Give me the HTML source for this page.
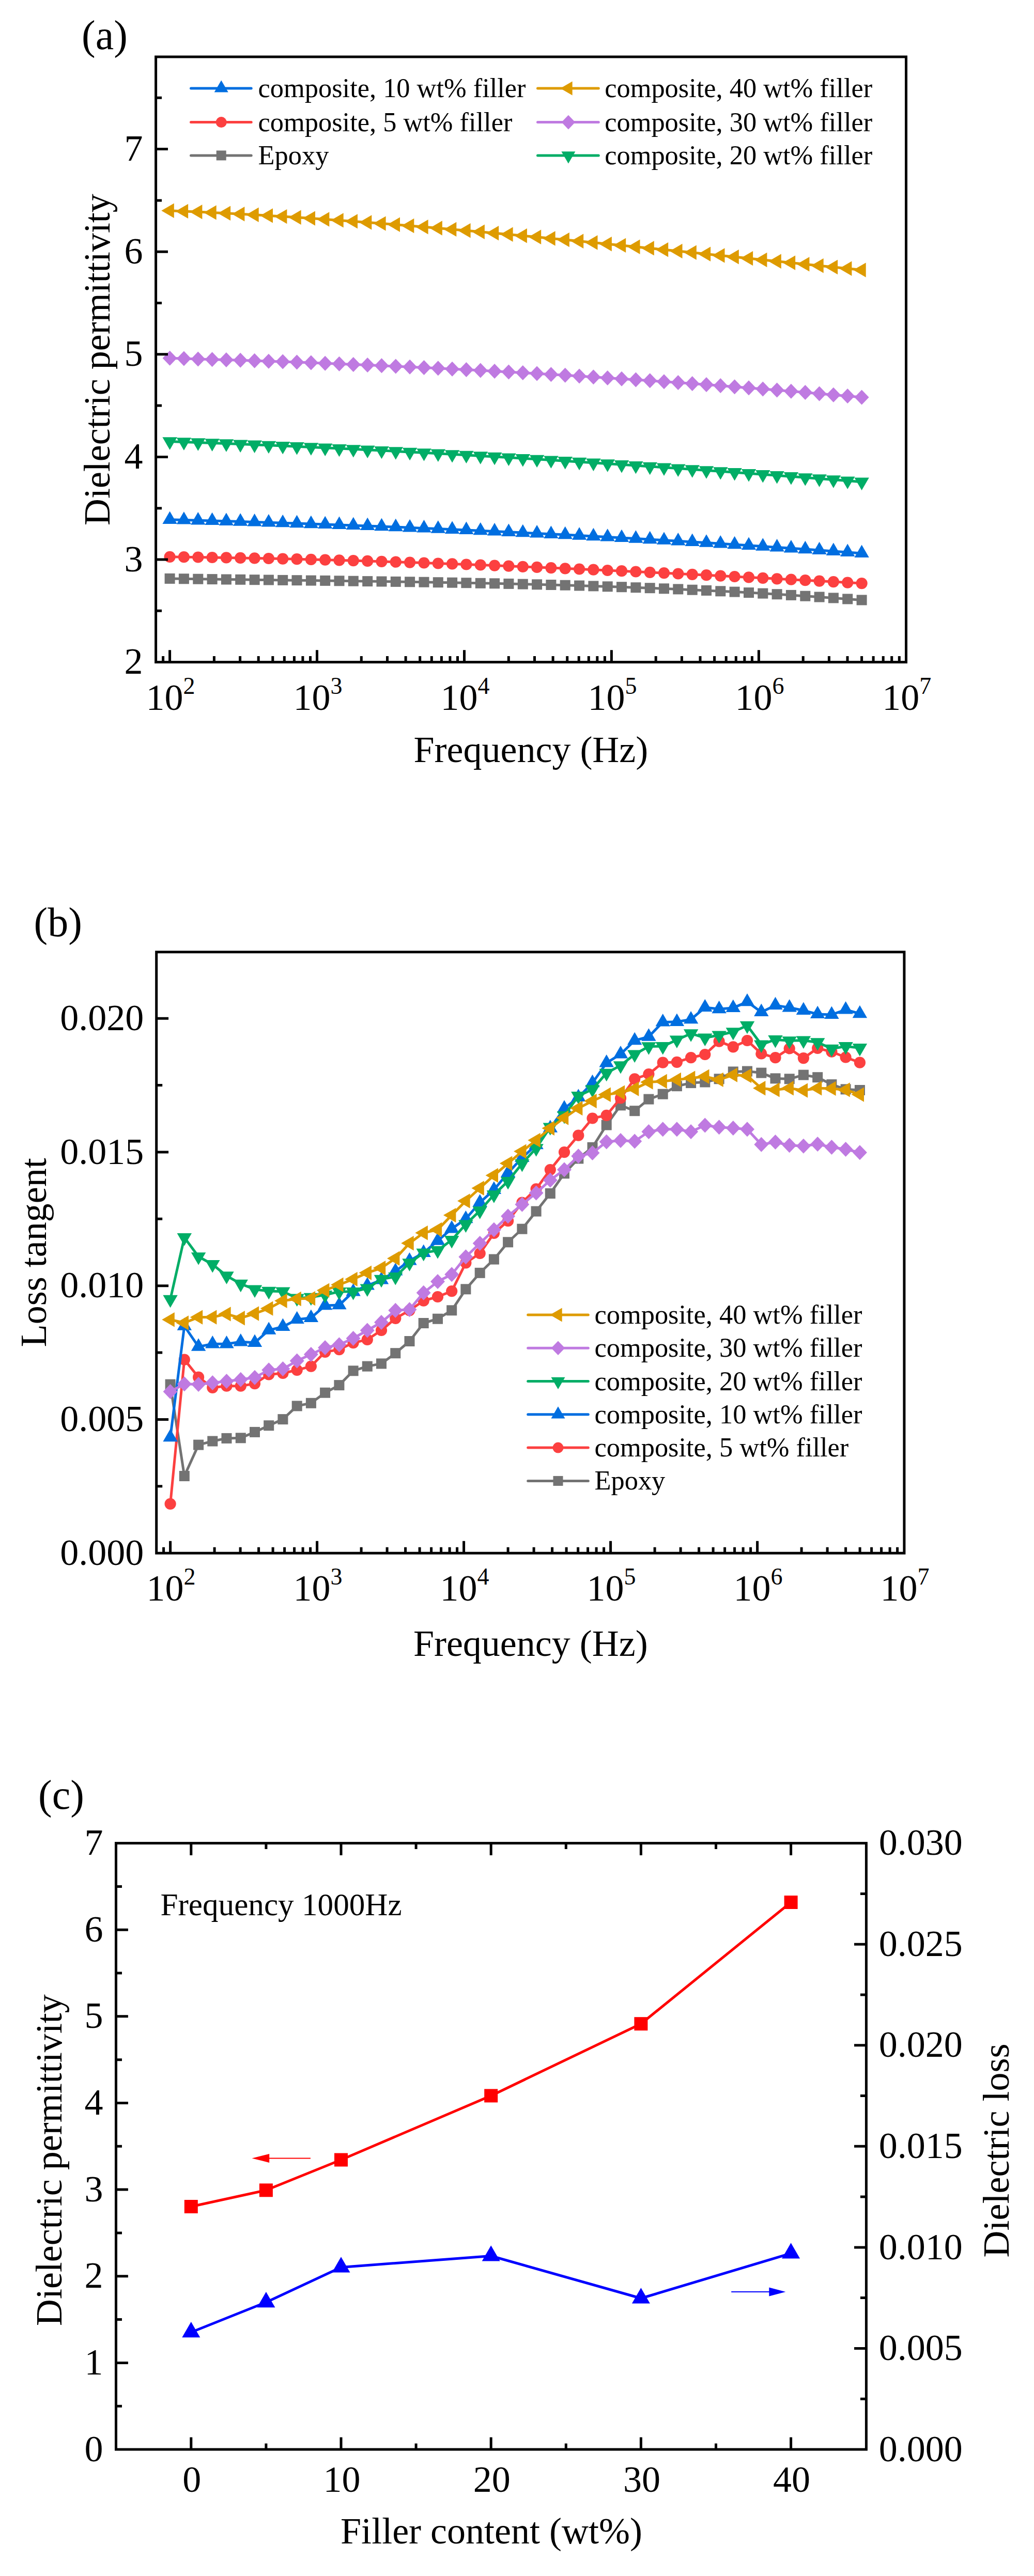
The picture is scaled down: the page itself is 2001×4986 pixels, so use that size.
<!DOCTYPE html>
<html><head><meta charset="utf-8"><title>Dielectric properties</title>
<style>html,body{margin:0;padding:0;background:#fff}svg{display:block}text{font-family:"Liberation Serif", "Times New Roman", serif;fill:#000}</style>
</head><body>
<svg width="2001" height="4986" viewBox="0 0 2001 4986">
<rect width="2001" height="4986" fill="#fff"/>
<polyline points="328.6,1119.9 355.9,1120.3 383.3,1120.7 410.6,1121.1 437.9,1121.5 465.2,1121.8 492.6,1122.2 519.9,1122.5 547.2,1122.9 574.5,1123.2 601.9,1123.6 629.2,1123.9 656.5,1124.3 683.8,1124.7 711.2,1125.1 738.5,1125.5 765.8,1125.9 793.1,1126.3 820.5,1126.7 847.8,1127.2 875.1,1127.7 902.4,1128.2 929.8,1128.8 957.1,1129.3 984.4,1129.9 1011.8,1130.6 1039.1,1131.3 1066.4,1132 1093.7,1132.7 1121.1,1133.5 1148.4,1134.4 1175.7,1135.3 1203,1136.2 1230.4,1137.2 1257.7,1138.2 1285,1139.3 1312.3,1140.4 1339.7,1141.7 1367,1142.9 1394.3,1144.3 1421.6,1145.6 1449,1147.1 1476.3,1148.6 1503.6,1150.2 1530.9,1151.9 1558.3,1153.7 1585.6,1155.5 1612.9,1157.4 1640.2,1159.4 1667.6,1161.4" fill="none" stroke="#737373" stroke-width="5" stroke-linejoin="round" stroke-linecap="round"/>
<rect x="318.6" y="1109.9" width="20" height="20" fill="#737373"/><rect x="345.9" y="1110.3" width="20" height="20" fill="#737373"/><rect x="373.3" y="1110.7" width="20" height="20" fill="#737373"/><rect x="400.6" y="1111.1" width="20" height="20" fill="#737373"/><rect x="427.9" y="1111.5" width="20" height="20" fill="#737373"/><rect x="455.2" y="1111.8" width="20" height="20" fill="#737373"/><rect x="482.6" y="1112.2" width="20" height="20" fill="#737373"/><rect x="509.9" y="1112.5" width="20" height="20" fill="#737373"/><rect x="537.2" y="1112.9" width="20" height="20" fill="#737373"/><rect x="564.5" y="1113.2" width="20" height="20" fill="#737373"/><rect x="591.9" y="1113.6" width="20" height="20" fill="#737373"/><rect x="619.2" y="1113.9" width="20" height="20" fill="#737373"/><rect x="646.5" y="1114.3" width="20" height="20" fill="#737373"/><rect x="673.8" y="1114.7" width="20" height="20" fill="#737373"/><rect x="701.2" y="1115.1" width="20" height="20" fill="#737373"/><rect x="728.5" y="1115.5" width="20" height="20" fill="#737373"/><rect x="755.8" y="1115.9" width="20" height="20" fill="#737373"/><rect x="783.1" y="1116.3" width="20" height="20" fill="#737373"/><rect x="810.5" y="1116.7" width="20" height="20" fill="#737373"/><rect x="837.8" y="1117.2" width="20" height="20" fill="#737373"/><rect x="865.1" y="1117.7" width="20" height="20" fill="#737373"/><rect x="892.4" y="1118.2" width="20" height="20" fill="#737373"/><rect x="919.8" y="1118.8" width="20" height="20" fill="#737373"/><rect x="947.1" y="1119.3" width="20" height="20" fill="#737373"/><rect x="974.4" y="1119.9" width="20" height="20" fill="#737373"/><rect x="1001.8" y="1120.6" width="20" height="20" fill="#737373"/><rect x="1029.1" y="1121.3" width="20" height="20" fill="#737373"/><rect x="1056.4" y="1122" width="20" height="20" fill="#737373"/><rect x="1083.7" y="1122.7" width="20" height="20" fill="#737373"/><rect x="1111.1" y="1123.5" width="20" height="20" fill="#737373"/><rect x="1138.4" y="1124.4" width="20" height="20" fill="#737373"/><rect x="1165.7" y="1125.3" width="20" height="20" fill="#737373"/><rect x="1193" y="1126.2" width="20" height="20" fill="#737373"/><rect x="1220.4" y="1127.2" width="20" height="20" fill="#737373"/><rect x="1247.7" y="1128.2" width="20" height="20" fill="#737373"/><rect x="1275" y="1129.3" width="20" height="20" fill="#737373"/><rect x="1302.3" y="1130.4" width="20" height="20" fill="#737373"/><rect x="1329.7" y="1131.7" width="20" height="20" fill="#737373"/><rect x="1357" y="1132.9" width="20" height="20" fill="#737373"/><rect x="1384.3" y="1134.3" width="20" height="20" fill="#737373"/><rect x="1411.6" y="1135.6" width="20" height="20" fill="#737373"/><rect x="1439" y="1137.1" width="20" height="20" fill="#737373"/><rect x="1466.3" y="1138.6" width="20" height="20" fill="#737373"/><rect x="1493.6" y="1140.2" width="20" height="20" fill="#737373"/><rect x="1520.9" y="1141.9" width="20" height="20" fill="#737373"/><rect x="1548.3" y="1143.7" width="20" height="20" fill="#737373"/><rect x="1575.6" y="1145.5" width="20" height="20" fill="#737373"/><rect x="1602.9" y="1147.4" width="20" height="20" fill="#737373"/><rect x="1630.2" y="1149.4" width="20" height="20" fill="#737373"/><rect x="1657.6" y="1151.4" width="20" height="20" fill="#737373"/>
<polyline points="328.6,1077.8 355.9,1078.2 383.3,1078.5 410.6,1079 437.9,1079.4 465.2,1079.9 492.6,1080.4 519.9,1081 547.2,1081.6 574.5,1082.2 601.9,1082.9 629.2,1083.6 656.5,1084.4 683.8,1085.1 711.2,1085.9 738.5,1086.8 765.8,1087.7 793.1,1088.6 820.5,1089.5 847.8,1090.5 875.1,1091.4 902.4,1092.5 929.8,1093.5 957.1,1094.6 984.4,1095.7 1011.8,1096.8 1039.1,1097.9 1066.4,1099.1 1093.7,1100.3 1121.1,1101.5 1148.4,1102.7 1175.7,1104 1203,1105.2 1230.4,1106.5 1257.7,1107.8 1285,1109.1 1312.3,1110.5 1339.7,1111.8 1367,1113.2 1394.3,1114.6 1421.6,1116 1449,1117.4 1476.3,1118.8 1503.6,1120.3 1530.9,1121.7 1558.3,1123.2 1585.6,1124.6 1612.9,1126.1 1640.2,1127.6 1667.6,1129.1" fill="none" stroke="#FC4040" stroke-width="5" stroke-linejoin="round" stroke-linecap="round"/>
<circle cx="328.6" cy="1077.8" r="11.1" fill="#FC4040"/><circle cx="355.9" cy="1078.2" r="11.1" fill="#FC4040"/><circle cx="383.3" cy="1078.5" r="11.1" fill="#FC4040"/><circle cx="410.6" cy="1079" r="11.1" fill="#FC4040"/><circle cx="437.9" cy="1079.4" r="11.1" fill="#FC4040"/><circle cx="465.2" cy="1079.9" r="11.1" fill="#FC4040"/><circle cx="492.6" cy="1080.4" r="11.1" fill="#FC4040"/><circle cx="519.9" cy="1081" r="11.1" fill="#FC4040"/><circle cx="547.2" cy="1081.6" r="11.1" fill="#FC4040"/><circle cx="574.5" cy="1082.2" r="11.1" fill="#FC4040"/><circle cx="601.9" cy="1082.9" r="11.1" fill="#FC4040"/><circle cx="629.2" cy="1083.6" r="11.1" fill="#FC4040"/><circle cx="656.5" cy="1084.4" r="11.1" fill="#FC4040"/><circle cx="683.8" cy="1085.1" r="11.1" fill="#FC4040"/><circle cx="711.2" cy="1085.9" r="11.1" fill="#FC4040"/><circle cx="738.5" cy="1086.8" r="11.1" fill="#FC4040"/><circle cx="765.8" cy="1087.7" r="11.1" fill="#FC4040"/><circle cx="793.1" cy="1088.6" r="11.1" fill="#FC4040"/><circle cx="820.5" cy="1089.5" r="11.1" fill="#FC4040"/><circle cx="847.8" cy="1090.5" r="11.1" fill="#FC4040"/><circle cx="875.1" cy="1091.4" r="11.1" fill="#FC4040"/><circle cx="902.4" cy="1092.5" r="11.1" fill="#FC4040"/><circle cx="929.8" cy="1093.5" r="11.1" fill="#FC4040"/><circle cx="957.1" cy="1094.6" r="11.1" fill="#FC4040"/><circle cx="984.4" cy="1095.7" r="11.1" fill="#FC4040"/><circle cx="1011.8" cy="1096.8" r="11.1" fill="#FC4040"/><circle cx="1039.1" cy="1097.9" r="11.1" fill="#FC4040"/><circle cx="1066.4" cy="1099.1" r="11.1" fill="#FC4040"/><circle cx="1093.7" cy="1100.3" r="11.1" fill="#FC4040"/><circle cx="1121.1" cy="1101.5" r="11.1" fill="#FC4040"/><circle cx="1148.4" cy="1102.7" r="11.1" fill="#FC4040"/><circle cx="1175.7" cy="1104" r="11.1" fill="#FC4040"/><circle cx="1203" cy="1105.2" r="11.1" fill="#FC4040"/><circle cx="1230.4" cy="1106.5" r="11.1" fill="#FC4040"/><circle cx="1257.7" cy="1107.8" r="11.1" fill="#FC4040"/><circle cx="1285" cy="1109.1" r="11.1" fill="#FC4040"/><circle cx="1312.3" cy="1110.5" r="11.1" fill="#FC4040"/><circle cx="1339.7" cy="1111.8" r="11.1" fill="#FC4040"/><circle cx="1367" cy="1113.2" r="11.1" fill="#FC4040"/><circle cx="1394.3" cy="1114.6" r="11.1" fill="#FC4040"/><circle cx="1421.6" cy="1116" r="11.1" fill="#FC4040"/><circle cx="1449" cy="1117.4" r="11.1" fill="#FC4040"/><circle cx="1476.3" cy="1118.8" r="11.1" fill="#FC4040"/><circle cx="1503.6" cy="1120.3" r="11.1" fill="#FC4040"/><circle cx="1530.9" cy="1121.7" r="11.1" fill="#FC4040"/><circle cx="1558.3" cy="1123.2" r="11.1" fill="#FC4040"/><circle cx="1585.6" cy="1124.6" r="11.1" fill="#FC4040"/><circle cx="1612.9" cy="1126.1" r="11.1" fill="#FC4040"/><circle cx="1640.2" cy="1127.6" r="11.1" fill="#FC4040"/><circle cx="1667.6" cy="1129.1" r="11.1" fill="#FC4040"/>
<polyline points="328.6,1005.7 355.9,1006.5 383.3,1007.2 410.6,1008 437.9,1008.8 465.2,1009.6 492.6,1010.4 519.9,1011.3 547.2,1012.2 574.5,1013.1 601.9,1014 629.2,1015 656.5,1015.9 683.8,1017 711.2,1018 738.5,1019 765.8,1020.1 793.1,1021.2 820.5,1022.4 847.8,1023.5 875.1,1024.7 902.4,1025.9 929.8,1027.2 957.1,1028.4 984.4,1029.7 1011.8,1031 1039.1,1032.4 1066.4,1033.7 1093.7,1035.1 1121.1,1036.6 1148.4,1038 1175.7,1039.5 1203,1041 1230.4,1042.5 1257.7,1044.1 1285,1045.7 1312.3,1047.3 1339.7,1048.9 1367,1050.6 1394.3,1052.3 1421.6,1054 1449,1055.8 1476.3,1057.6 1503.6,1059.4 1530.9,1061.2 1558.3,1063.1 1585.6,1065 1612.9,1066.9 1640.2,1068.9 1667.6,1070.9" fill="none" stroke="#006EE0" stroke-width="5" stroke-linejoin="round" stroke-linecap="round"/>
<polygon points="328.6,989.4 314.4,1013.9 342.8,1013.9" fill="#006EE0"/><polygon points="355.9,990.2 341.7,1014.6 370.1,1014.6" fill="#006EE0"/><polygon points="383.3,990.9 369.1,1015.4 397.5,1015.4" fill="#006EE0"/><polygon points="410.6,991.7 396.4,1016.1 424.8,1016.1" fill="#006EE0"/><polygon points="437.9,992.5 423.7,1016.9 452.1,1016.9" fill="#006EE0"/><polygon points="465.2,993.3 451,1017.7 479.4,1017.7" fill="#006EE0"/><polygon points="492.6,994.1 478.4,1018.6 506.8,1018.6" fill="#006EE0"/><polygon points="519.9,995 505.7,1019.4 534.1,1019.4" fill="#006EE0"/><polygon points="547.2,995.9 533,1020.3 561.4,1020.3" fill="#006EE0"/><polygon points="574.5,996.8 560.3,1021.2 588.7,1021.2" fill="#006EE0"/><polygon points="601.9,997.7 587.7,1022.2 616.1,1022.2" fill="#006EE0"/><polygon points="629.2,998.7 615,1023.1 643.4,1023.1" fill="#006EE0"/><polygon points="656.5,999.6 642.3,1024.1 670.7,1024.1" fill="#006EE0"/><polygon points="683.8,1000.7 669.6,1025.1 698,1025.1" fill="#006EE0"/><polygon points="711.2,1001.7 697,1026.1 725.4,1026.1" fill="#006EE0"/><polygon points="738.5,1002.7 724.3,1027.2 752.7,1027.2" fill="#006EE0"/><polygon points="765.8,1003.8 751.6,1028.3 780,1028.3" fill="#006EE0"/><polygon points="793.1,1004.9 778.9,1029.4 807.3,1029.4" fill="#006EE0"/><polygon points="820.5,1006.1 806.3,1030.5 834.7,1030.5" fill="#006EE0"/><polygon points="847.8,1007.2 833.6,1031.7 862,1031.7" fill="#006EE0"/><polygon points="875.1,1008.4 860.9,1032.9 889.3,1032.9" fill="#006EE0"/><polygon points="902.4,1009.6 888.2,1034.1 916.6,1034.1" fill="#006EE0"/><polygon points="929.8,1010.9 915.6,1035.3 944,1035.3" fill="#006EE0"/><polygon points="957.1,1012.1 942.9,1036.6 971.3,1036.6" fill="#006EE0"/><polygon points="984.4,1013.4 970.2,1037.9 998.6,1037.9" fill="#006EE0"/><polygon points="1011.8,1014.7 997.5,1039.2 1026,1039.2" fill="#006EE0"/><polygon points="1039.1,1016.1 1024.9,1040.5 1053.3,1040.5" fill="#006EE0"/><polygon points="1066.4,1017.4 1052.2,1041.9 1080.6,1041.9" fill="#006EE0"/><polygon points="1093.7,1018.8 1079.5,1043.3 1107.9,1043.3" fill="#006EE0"/><polygon points="1121.1,1020.3 1106.9,1044.7 1135.3,1044.7" fill="#006EE0"/><polygon points="1148.4,1021.7 1134.2,1046.2 1162.6,1046.2" fill="#006EE0"/><polygon points="1175.7,1023.2 1161.5,1047.6 1189.9,1047.6" fill="#006EE0"/><polygon points="1203,1024.7 1188.8,1049.1 1217.2,1049.1" fill="#006EE0"/><polygon points="1230.4,1026.2 1216.2,1050.7 1244.6,1050.7" fill="#006EE0"/><polygon points="1257.7,1027.8 1243.5,1052.2 1271.9,1052.2" fill="#006EE0"/><polygon points="1285,1029.4 1270.8,1053.8 1299.2,1053.8" fill="#006EE0"/><polygon points="1312.3,1031 1298.1,1055.4 1326.5,1055.4" fill="#006EE0"/><polygon points="1339.7,1032.6 1325.5,1057.1 1353.9,1057.1" fill="#006EE0"/><polygon points="1367,1034.3 1352.8,1058.7 1381.2,1058.7" fill="#006EE0"/><polygon points="1394.3,1036 1380.1,1060.4 1408.5,1060.4" fill="#006EE0"/><polygon points="1421.6,1037.7 1407.4,1062.2 1435.8,1062.2" fill="#006EE0"/><polygon points="1449,1039.5 1434.8,1063.9 1463.2,1063.9" fill="#006EE0"/><polygon points="1476.3,1041.3 1462.1,1065.7 1490.5,1065.7" fill="#006EE0"/><polygon points="1503.6,1043.1 1489.4,1067.5 1517.8,1067.5" fill="#006EE0"/><polygon points="1530.9,1044.9 1516.7,1069.4 1545.1,1069.4" fill="#006EE0"/><polygon points="1558.3,1046.8 1544.1,1071.2 1572.5,1071.2" fill="#006EE0"/><polygon points="1585.6,1048.7 1571.4,1073.1 1599.8,1073.1" fill="#006EE0"/><polygon points="1612.9,1050.6 1598.7,1075.1 1627.1,1075.1" fill="#006EE0"/><polygon points="1640.2,1052.6 1626,1077 1654.4,1077" fill="#006EE0"/><polygon points="1667.6,1054.6 1653.4,1079 1681.8,1079" fill="#006EE0"/>
<polyline points="328.6,854.4 355.9,855.4 383.3,856.4 410.6,857.4 437.9,858.5 465.2,859.6 492.6,860.7 519.9,861.8 547.2,863 574.5,864.2 601.9,865.4 629.2,866.7 656.5,868 683.8,869.3 711.2,870.7 738.5,872 765.8,873.4 793.1,874.9 820.5,876.3 847.8,877.8 875.1,879.3 902.4,880.8 929.8,882.4 957.1,884 984.4,885.6 1011.8,887.2 1039.1,888.8 1066.4,890.5 1093.7,892.2 1121.1,893.9 1148.4,895.7 1175.7,897.4 1203,899.2 1230.4,901 1257.7,902.9 1285,904.7 1312.3,906.6 1339.7,908.5 1367,910.4 1394.3,912.3 1421.6,914.3 1449,916.2 1476.3,918.2 1503.6,920.2 1530.9,922.3 1558.3,924.3 1585.6,926.4 1612.9,928.5 1640.2,930.5 1667.6,932.7" fill="none" stroke="#00AD66" stroke-width="5" stroke-linejoin="round" stroke-linecap="round"/>
<polygon points="328.6,870.7 314.4,846.3 342.8,846.3" fill="#00AD66"/><polygon points="355.9,871.7 341.7,847.2 370.1,847.2" fill="#00AD66"/><polygon points="383.3,872.7 369.1,848.2 397.5,848.2" fill="#00AD66"/><polygon points="410.6,873.7 396.4,849.3 424.8,849.3" fill="#00AD66"/><polygon points="437.9,874.8 423.7,850.3 452.1,850.3" fill="#00AD66"/><polygon points="465.2,875.9 451,851.4 479.4,851.4" fill="#00AD66"/><polygon points="492.6,877 478.4,852.5 506.8,852.5" fill="#00AD66"/><polygon points="519.9,878.1 505.7,853.7 534.1,853.7" fill="#00AD66"/><polygon points="547.2,879.3 533,854.9 561.4,854.9" fill="#00AD66"/><polygon points="574.5,880.5 560.3,856.1 588.7,856.1" fill="#00AD66"/><polygon points="601.9,881.7 587.7,857.3 616.1,857.3" fill="#00AD66"/><polygon points="629.2,883 615,858.6 643.4,858.6" fill="#00AD66"/><polygon points="656.5,884.3 642.3,859.9 670.7,859.9" fill="#00AD66"/><polygon points="683.8,885.6 669.6,861.2 698,861.2" fill="#00AD66"/><polygon points="711.2,887 697,862.5 725.4,862.5" fill="#00AD66"/><polygon points="738.5,888.3 724.3,863.9 752.7,863.9" fill="#00AD66"/><polygon points="765.8,889.7 751.6,865.3 780,865.3" fill="#00AD66"/><polygon points="793.1,891.2 778.9,866.7 807.3,866.7" fill="#00AD66"/><polygon points="820.5,892.6 806.3,868.2 834.7,868.2" fill="#00AD66"/><polygon points="847.8,894.1 833.6,869.6 862,869.6" fill="#00AD66"/><polygon points="875.1,895.6 860.9,871.2 889.3,871.2" fill="#00AD66"/><polygon points="902.4,897.1 888.2,872.7 916.6,872.7" fill="#00AD66"/><polygon points="929.8,898.7 915.6,874.2 944,874.2" fill="#00AD66"/><polygon points="957.1,900.3 942.9,875.8 971.3,875.8" fill="#00AD66"/><polygon points="984.4,901.9 970.2,877.4 998.6,877.4" fill="#00AD66"/><polygon points="1011.8,903.5 997.5,879 1026,879" fill="#00AD66"/><polygon points="1039.1,905.1 1024.9,880.7 1053.3,880.7" fill="#00AD66"/><polygon points="1066.4,906.8 1052.2,882.4 1080.6,882.4" fill="#00AD66"/><polygon points="1093.7,908.5 1079.5,884.1 1107.9,884.1" fill="#00AD66"/><polygon points="1121.1,910.2 1106.9,885.8 1135.3,885.8" fill="#00AD66"/><polygon points="1148.4,912 1134.2,887.5 1162.6,887.5" fill="#00AD66"/><polygon points="1175.7,913.7 1161.5,889.3 1189.9,889.3" fill="#00AD66"/><polygon points="1203,915.5 1188.8,891.1 1217.2,891.1" fill="#00AD66"/><polygon points="1230.4,917.3 1216.2,892.9 1244.6,892.9" fill="#00AD66"/><polygon points="1257.7,919.2 1243.5,894.7 1271.9,894.7" fill="#00AD66"/><polygon points="1285,921 1270.8,896.6 1299.2,896.6" fill="#00AD66"/><polygon points="1312.3,922.9 1298.1,898.4 1326.5,898.4" fill="#00AD66"/><polygon points="1339.7,924.8 1325.5,900.3 1353.9,900.3" fill="#00AD66"/><polygon points="1367,926.7 1352.8,902.2 1381.2,902.2" fill="#00AD66"/><polygon points="1394.3,928.6 1380.1,904.2 1408.5,904.2" fill="#00AD66"/><polygon points="1421.6,930.6 1407.4,906.1 1435.8,906.1" fill="#00AD66"/><polygon points="1449,932.5 1434.8,908.1 1463.2,908.1" fill="#00AD66"/><polygon points="1476.3,934.5 1462.1,910.1 1490.5,910.1" fill="#00AD66"/><polygon points="1503.6,936.5 1489.4,912.1 1517.8,912.1" fill="#00AD66"/><polygon points="1530.9,938.6 1516.7,914.1 1545.1,914.1" fill="#00AD66"/><polygon points="1558.3,940.6 1544.1,916.2 1572.5,916.2" fill="#00AD66"/><polygon points="1585.6,942.7 1571.4,918.2 1599.8,918.2" fill="#00AD66"/><polygon points="1612.9,944.8 1598.7,920.3 1627.1,920.3" fill="#00AD66"/><polygon points="1640.2,946.8 1626,922.4 1654.4,922.4" fill="#00AD66"/><polygon points="1667.6,949 1653.4,924.5 1681.8,924.5" fill="#00AD66"/>
<polyline points="328.6,693.3 355.9,694.1 383.3,694.9 410.6,695.7 437.9,696.5 465.2,697.3 492.6,698.2 519.9,699.2 547.2,700.1 574.5,701.1 601.9,702.1 629.2,703.2 656.5,704.3 683.8,705.4 711.2,706.6 738.5,707.8 765.8,709 793.1,710.2 820.5,711.5 847.8,712.8 875.1,714.2 902.4,715.6 929.8,717 957.1,718.5 984.4,720 1011.8,721.5 1039.1,723.1 1066.4,724.7 1093.7,726.3 1121.1,728 1148.4,729.7 1175.7,731.4 1203,733.2 1230.4,735 1257.7,736.8 1285,738.7 1312.3,740.6 1339.7,742.6 1367,744.6 1394.3,746.6 1421.6,748.7 1449,750.8 1476.3,752.9 1503.6,755.1 1530.9,757.3 1558.3,759.6 1585.6,761.9 1612.9,764.2 1640.2,766.6 1667.6,769" fill="none" stroke="#BF7AE1" stroke-width="5" stroke-linejoin="round" stroke-linecap="round"/>
<polygon points="328.6,678.8 342.6,693.3 328.6,707.8 314.6,693.3" fill="#BF7AE1"/><polygon points="355.9,679.6 369.9,694.1 355.9,708.6 341.9,694.1" fill="#BF7AE1"/><polygon points="383.3,680.4 397.3,694.9 383.3,709.4 369.3,694.9" fill="#BF7AE1"/><polygon points="410.6,681.2 424.6,695.7 410.6,710.2 396.6,695.7" fill="#BF7AE1"/><polygon points="437.9,682 451.9,696.5 437.9,711 423.9,696.5" fill="#BF7AE1"/><polygon points="465.2,682.8 479.2,697.3 465.2,711.8 451.2,697.3" fill="#BF7AE1"/><polygon points="492.6,683.7 506.6,698.2 492.6,712.7 478.6,698.2" fill="#BF7AE1"/><polygon points="519.9,684.7 533.9,699.2 519.9,713.7 505.9,699.2" fill="#BF7AE1"/><polygon points="547.2,685.6 561.2,700.1 547.2,714.6 533.2,700.1" fill="#BF7AE1"/><polygon points="574.5,686.6 588.5,701.1 574.5,715.6 560.5,701.1" fill="#BF7AE1"/><polygon points="601.9,687.6 615.9,702.1 601.9,716.6 587.9,702.1" fill="#BF7AE1"/><polygon points="629.2,688.7 643.2,703.2 629.2,717.7 615.2,703.2" fill="#BF7AE1"/><polygon points="656.5,689.8 670.5,704.3 656.5,718.8 642.5,704.3" fill="#BF7AE1"/><polygon points="683.8,690.9 697.8,705.4 683.8,719.9 669.8,705.4" fill="#BF7AE1"/><polygon points="711.2,692.1 725.2,706.6 711.2,721.1 697.2,706.6" fill="#BF7AE1"/><polygon points="738.5,693.3 752.5,707.8 738.5,722.3 724.5,707.8" fill="#BF7AE1"/><polygon points="765.8,694.5 779.8,709 765.8,723.5 751.8,709" fill="#BF7AE1"/><polygon points="793.1,695.7 807.1,710.2 793.1,724.7 779.1,710.2" fill="#BF7AE1"/><polygon points="820.5,697 834.5,711.5 820.5,726 806.5,711.5" fill="#BF7AE1"/><polygon points="847.8,698.3 861.8,712.8 847.8,727.3 833.8,712.8" fill="#BF7AE1"/><polygon points="875.1,699.7 889.1,714.2 875.1,728.7 861.1,714.2" fill="#BF7AE1"/><polygon points="902.4,701.1 916.4,715.6 902.4,730.1 888.4,715.6" fill="#BF7AE1"/><polygon points="929.8,702.5 943.8,717 929.8,731.5 915.8,717" fill="#BF7AE1"/><polygon points="957.1,704 971.1,718.5 957.1,733 943.1,718.5" fill="#BF7AE1"/><polygon points="984.4,705.5 998.4,720 984.4,734.5 970.4,720" fill="#BF7AE1"/><polygon points="1011.8,707 1025.8,721.5 1011.8,736 997.8,721.5" fill="#BF7AE1"/><polygon points="1039.1,708.6 1053.1,723.1 1039.1,737.6 1025.1,723.1" fill="#BF7AE1"/><polygon points="1066.4,710.2 1080.4,724.7 1066.4,739.2 1052.4,724.7" fill="#BF7AE1"/><polygon points="1093.7,711.8 1107.7,726.3 1093.7,740.8 1079.7,726.3" fill="#BF7AE1"/><polygon points="1121.1,713.5 1135.1,728 1121.1,742.5 1107.1,728" fill="#BF7AE1"/><polygon points="1148.4,715.2 1162.4,729.7 1148.4,744.2 1134.4,729.7" fill="#BF7AE1"/><polygon points="1175.7,716.9 1189.7,731.4 1175.7,745.9 1161.7,731.4" fill="#BF7AE1"/><polygon points="1203,718.7 1217,733.2 1203,747.7 1189,733.2" fill="#BF7AE1"/><polygon points="1230.4,720.5 1244.4,735 1230.4,749.5 1216.4,735" fill="#BF7AE1"/><polygon points="1257.7,722.3 1271.7,736.8 1257.7,751.3 1243.7,736.8" fill="#BF7AE1"/><polygon points="1285,724.2 1299,738.7 1285,753.2 1271,738.7" fill="#BF7AE1"/><polygon points="1312.3,726.1 1326.3,740.6 1312.3,755.1 1298.3,740.6" fill="#BF7AE1"/><polygon points="1339.7,728.1 1353.7,742.6 1339.7,757.1 1325.7,742.6" fill="#BF7AE1"/><polygon points="1367,730.1 1381,744.6 1367,759.1 1353,744.6" fill="#BF7AE1"/><polygon points="1394.3,732.1 1408.3,746.6 1394.3,761.1 1380.3,746.6" fill="#BF7AE1"/><polygon points="1421.6,734.2 1435.6,748.7 1421.6,763.2 1407.6,748.7" fill="#BF7AE1"/><polygon points="1449,736.3 1463,750.8 1449,765.3 1435,750.8" fill="#BF7AE1"/><polygon points="1476.3,738.4 1490.3,752.9 1476.3,767.4 1462.3,752.9" fill="#BF7AE1"/><polygon points="1503.6,740.6 1517.6,755.1 1503.6,769.6 1489.6,755.1" fill="#BF7AE1"/><polygon points="1530.9,742.8 1544.9,757.3 1530.9,771.8 1516.9,757.3" fill="#BF7AE1"/><polygon points="1558.3,745.1 1572.3,759.6 1558.3,774.1 1544.3,759.6" fill="#BF7AE1"/><polygon points="1585.6,747.4 1599.6,761.9 1585.6,776.4 1571.6,761.9" fill="#BF7AE1"/><polygon points="1612.9,749.7 1626.9,764.2 1612.9,778.7 1598.9,764.2" fill="#BF7AE1"/><polygon points="1640.2,752.1 1654.2,766.6 1640.2,781.1 1626.2,766.6" fill="#BF7AE1"/><polygon points="1667.6,754.5 1681.6,769 1667.6,783.5 1653.6,769" fill="#BF7AE1"/>
<polyline points="328.6,407.8 355.9,408.9 383.3,410.1 410.6,411.4 437.9,412.8 465.2,414.3 492.6,415.8 519.9,417.4 547.2,419.1 574.5,420.8 601.9,422.6 629.2,424.5 656.5,426.4 683.8,428.4 711.2,430.5 738.5,432.6 765.8,434.7 793.1,437 820.5,439.2 847.8,441.5 875.1,443.9 902.4,446.3 929.8,448.7 957.1,451.2 984.4,453.7 1011.8,456.3 1039.1,458.8 1066.4,461.5 1093.7,464.1 1121.1,466.8 1148.4,469.5 1175.7,472.2 1203,474.9 1230.4,477.7 1257.7,480.4 1285,483.2 1312.3,486 1339.7,488.8 1367,491.7 1394.3,494.5 1421.6,497.3 1449,500.1 1476.3,503 1503.6,505.8 1530.9,508.6 1558.3,511.4 1585.6,514.2 1612.9,517 1640.2,519.8 1667.6,522.6" fill="none" stroke="#DE9B00" stroke-width="5" stroke-linejoin="round" stroke-linecap="round"/>
<polygon points="312.3,407.8 336.8,393.6 336.8,422" fill="#DE9B00"/><polygon points="339.6,408.9 364.1,394.7 364.1,423.1" fill="#DE9B00"/><polygon points="367,410.1 391.4,395.9 391.4,424.3" fill="#DE9B00"/><polygon points="394.3,411.4 418.7,397.2 418.7,425.6" fill="#DE9B00"/><polygon points="421.6,412.8 446.1,398.6 446.1,427" fill="#DE9B00"/><polygon points="448.9,414.3 473.4,400.1 473.4,428.5" fill="#DE9B00"/><polygon points="476.3,415.8 500.7,401.6 500.7,430" fill="#DE9B00"/><polygon points="503.6,417.4 528,403.2 528,431.6" fill="#DE9B00"/><polygon points="530.9,419.1 555.4,404.9 555.4,433.3" fill="#DE9B00"/><polygon points="558.2,420.8 582.7,406.6 582.7,435" fill="#DE9B00"/><polygon points="585.6,422.6 610,408.4 610,436.8" fill="#DE9B00"/><polygon points="612.9,424.5 637.3,410.3 637.3,438.7" fill="#DE9B00"/><polygon points="640.2,426.4 664.7,412.2 664.7,440.6" fill="#DE9B00"/><polygon points="667.5,428.4 692,414.2 692,442.6" fill="#DE9B00"/><polygon points="694.9,430.5 719.3,416.3 719.3,444.7" fill="#DE9B00"/><polygon points="722.2,432.6 746.6,418.4 746.6,446.8" fill="#DE9B00"/><polygon points="749.5,434.7 774,420.5 774,448.9" fill="#DE9B00"/><polygon points="776.8,437 801.3,422.8 801.3,451.2" fill="#DE9B00"/><polygon points="804.2,439.2 828.6,425 828.6,453.4" fill="#DE9B00"/><polygon points="831.5,441.5 855.9,427.3 855.9,455.7" fill="#DE9B00"/><polygon points="858.8,443.9 883.3,429.7 883.3,458.1" fill="#DE9B00"/><polygon points="886.1,446.3 910.6,432.1 910.6,460.5" fill="#DE9B00"/><polygon points="913.5,448.7 937.9,434.5 937.9,462.9" fill="#DE9B00"/><polygon points="940.8,451.2 965.2,437 965.2,465.4" fill="#DE9B00"/><polygon points="968.1,453.7 992.6,439.5 992.6,467.9" fill="#DE9B00"/><polygon points="995.5,456.3 1019.9,442.1 1019.9,470.5" fill="#DE9B00"/><polygon points="1022.8,458.8 1047.2,444.6 1047.2,473" fill="#DE9B00"/><polygon points="1050.1,461.5 1074.6,447.3 1074.6,475.7" fill="#DE9B00"/><polygon points="1077.4,464.1 1101.9,449.9 1101.9,478.3" fill="#DE9B00"/><polygon points="1104.8,466.8 1129.2,452.6 1129.2,481" fill="#DE9B00"/><polygon points="1132.1,469.5 1156.5,455.3 1156.5,483.7" fill="#DE9B00"/><polygon points="1159.4,472.2 1183.9,458 1183.9,486.4" fill="#DE9B00"/><polygon points="1186.7,474.9 1211.2,460.7 1211.2,489.1" fill="#DE9B00"/><polygon points="1214.1,477.7 1238.5,463.5 1238.5,491.9" fill="#DE9B00"/><polygon points="1241.4,480.4 1265.8,466.2 1265.8,494.6" fill="#DE9B00"/><polygon points="1268.7,483.2 1293.2,469 1293.2,497.4" fill="#DE9B00"/><polygon points="1296,486 1320.5,471.8 1320.5,500.2" fill="#DE9B00"/><polygon points="1323.4,488.8 1347.8,474.6 1347.8,503" fill="#DE9B00"/><polygon points="1350.7,491.7 1375.1,477.5 1375.1,505.9" fill="#DE9B00"/><polygon points="1378,494.5 1402.5,480.3 1402.5,508.7" fill="#DE9B00"/><polygon points="1405.3,497.3 1429.8,483.1 1429.8,511.5" fill="#DE9B00"/><polygon points="1432.7,500.1 1457.1,485.9 1457.1,514.3" fill="#DE9B00"/><polygon points="1460,503 1484.4,488.8 1484.4,517.2" fill="#DE9B00"/><polygon points="1487.3,505.8 1511.8,491.6 1511.8,520" fill="#DE9B00"/><polygon points="1514.6,508.6 1539.1,494.4 1539.1,522.8" fill="#DE9B00"/><polygon points="1542,511.4 1566.4,497.2 1566.4,525.6" fill="#DE9B00"/><polygon points="1569.3,514.2 1593.7,500 1593.7,528.4" fill="#DE9B00"/><polygon points="1596.6,517 1621.1,502.8 1621.1,531.2" fill="#DE9B00"/><polygon points="1623.9,519.8 1648.4,505.6 1648.4,534" fill="#DE9B00"/><polygon points="1651.3,522.6 1675.7,508.4 1675.7,536.8" fill="#DE9B00"/>
<rect x="301.6" y="110" width="1451.9" height="1171.6" fill="none" stroke="#000" stroke-width="5"/>
<text x="276.5" y="1304.2" font-size="72" text-anchor="end" >2</text>
<text x="276.5" y="1105.6" font-size="72" text-anchor="end" >3</text>
<text x="276.5" y="907" font-size="72" text-anchor="end" >4</text>
<text x="276.5" y="708.4" font-size="72" text-anchor="end" >5</text>
<text x="276.5" y="509.8" font-size="72" text-anchor="end" >6</text>
<text x="276.5" y="311.2" font-size="72" text-anchor="end" >7</text>
<path d="M301.6 1182.3H313.1 M301.6 1083H325 M301.6 983.7H313.1 M301.6 884.4H325 M301.6 785.1H313.1 M301.6 685.8H325 M301.6 586.5H313.1 M301.6 487.2H325 M301.6 387.9H313.1 M301.6 288.6H325 M301.6 189.3H313.1" stroke="#000" stroke-width="5" fill="none"/>
<path d="M315.6 1281.6V1270.1 M328.6 1281.6V1258.2 M414.4 1281.6V1270.1 M464.6 1281.6V1270.1 M500.2 1281.6V1270.1 M527.8 1281.6V1270.1 M550.3 1281.6V1270.1 M569.4 1281.6V1270.1 M585.9 1281.6V1270.1 M600.5 1281.6V1270.1 M613.5 1281.6V1258.2 M699.3 1281.6V1270.1 M749.5 1281.6V1270.1 M785.1 1281.6V1270.1 M812.7 1281.6V1270.1 M835.3 1281.6V1270.1 M854.4 1281.6V1270.1 M870.9 1281.6V1270.1 M885.5 1281.6V1270.1 M898.5 1281.6V1258.2 M984.3 1281.6V1270.1 M1034.5 1281.6V1270.1 M1070.1 1281.6V1270.1 M1097.7 1281.6V1270.1 M1120.2 1281.6V1270.1 M1139.3 1281.6V1270.1 M1155.8 1281.6V1270.1 M1170.4 1281.6V1270.1 M1183.4 1281.6V1258.2 M1269.2 1281.6V1270.1 M1319.4 1281.6V1270.1 M1355 1281.6V1270.1 M1382.6 1281.6V1270.1 M1405.2 1281.6V1270.1 M1424.3 1281.6V1270.1 M1440.8 1281.6V1270.1 M1455.4 1281.6V1270.1 M1468.4 1281.6V1258.2 M1554.2 1281.6V1270.1 M1604.4 1281.6V1270.1 M1640 1281.6V1270.1 M1667.6 1281.6V1270.1 M1690.1 1281.6V1270.1 M1709.2 1281.6V1270.1 M1725.7 1281.6V1270.1 M1740.3 1281.6V1270.1" stroke="#000" stroke-width="5" fill="none"/>
<text x="282.6" y="1374" font-size="72">10<tspan font-size="46" dy="-30.6">2</tspan></text>
<text x="567.5" y="1374" font-size="72">10<tspan font-size="46" dy="-30.6">3</tspan></text>
<text x="852.5" y="1374" font-size="72">10<tspan font-size="46" dy="-30.6">4</tspan></text>
<text x="1137.4" y="1374" font-size="72">10<tspan font-size="46" dy="-30.6">5</tspan></text>
<text x="1422.4" y="1374" font-size="72">10<tspan font-size="46" dy="-30.6">6</tspan></text>
<text x="1707.3" y="1374" font-size="72">10<tspan font-size="46" dy="-30.6">7</tspan></text>
<text x="1027.4" y="1475" font-size="72" text-anchor="middle" >Frequency (Hz)</text>
<text transform="translate(212.1,696.2) rotate(-90)" font-size="72" text-anchor="middle">Dielectric permittivity</text>
<text x="158" y="94.5" font-size="80" text-anchor="start" >(a)</text>
<path d="M369.5 170.9H486.2" stroke="#006EE0" stroke-width="5" stroke-linecap="round"/>
<polygon points="428.2,155.4 414.7,178.6 441.7,178.6" fill="#006EE0"/>
<text x="499.6" y="188.4" font-size="52.4" text-anchor="start" >composite, 10 wt% filler</text>
<path d="M369.5 236.6H486.2" stroke="#FC4040" stroke-width="5" stroke-linecap="round"/>
<circle cx="428.2" cy="236.6" r="10.5" fill="#FC4040"/>
<text x="499.6" y="254.1" font-size="52.4" text-anchor="start" >composite, 5 wt% filler</text>
<path d="M369.5 300.9H486.2" stroke="#737373" stroke-width="5" stroke-linecap="round"/>
<rect x="418.7" y="291.4" width="19" height="19" fill="#737373"/>
<text x="499.6" y="318.4" font-size="52.4" text-anchor="start" >Epoxy</text>
<path d="M1040.5 170.9H1158.3" stroke="#DE9B00" stroke-width="5" stroke-linecap="round"/>
<polygon points="1084.4,170.9 1107.6,157.4 1107.6,184.4" fill="#DE9B00"/>
<text x="1170.2" y="188.4" font-size="52.4" text-anchor="start" >composite, 40 wt% filler</text>
<path d="M1040.5 236.6H1158.3" stroke="#BF7AE1" stroke-width="5" stroke-linecap="round"/>
<polygon points="1099.9,222.8 1113.2,236.6 1099.9,250.4 1086.6,236.6" fill="#BF7AE1"/>
<text x="1170.2" y="254.1" font-size="52.4" text-anchor="start" >composite, 30 wt% filler</text>
<path d="M1040.5 300.9H1158.3" stroke="#00AD66" stroke-width="5" stroke-linecap="round"/>
<polygon points="1099.9,316.4 1086.4,293.2 1113.4,293.2" fill="#00AD66"/>
<text x="1170.2" y="318.4" font-size="52.4" text-anchor="start" >composite, 20 wt% filler</text>
<polyline points="329.6,2679.6 356.8,2857 384.1,2796.6 411.3,2789.5 438.5,2783.9 465.8,2783.3 493,2771.9 520.2,2759.2 547.4,2747.1 574.7,2721.4 601.9,2715.8 629.1,2695.7 656.4,2681.1 683.6,2653.3 710.8,2644.6 738,2639.4 765.3,2619.2 792.5,2596 819.7,2561 847,2552.7 874.2,2536.3 901.4,2495.3 928.7,2463.8 955.9,2437.5 983.1,2404.3 1010.4,2378.7 1037.6,2344.6 1064.8,2310 1092,2271.3 1119.3,2242.5 1146.5,2220.8 1173.7,2177.5 1201,2139.4 1228.2,2150.2 1255.4,2127.6 1282.7,2117.7 1309.9,2102.2 1337.1,2096.1 1364.3,2094.5 1391.6,2088.3 1418.8,2074.4 1446,2073.5 1473.3,2076.6 1500.5,2087.4 1527.7,2088.3 1554.9,2080.6 1582.2,2085.2 1609.4,2099.1 1636.6,2108.4 1663.9,2110" fill="none" stroke="#737373" stroke-width="5" stroke-linejoin="round" stroke-linecap="round"/>
<rect x="319.6" y="2669.6" width="20" height="20" fill="#737373"/><rect x="346.8" y="2847" width="20" height="20" fill="#737373"/><rect x="374.1" y="2786.6" width="20" height="20" fill="#737373"/><rect x="401.3" y="2779.5" width="20" height="20" fill="#737373"/><rect x="428.5" y="2773.9" width="20" height="20" fill="#737373"/><rect x="455.8" y="2773.3" width="20" height="20" fill="#737373"/><rect x="483" y="2761.9" width="20" height="20" fill="#737373"/><rect x="510.2" y="2749.2" width="20" height="20" fill="#737373"/><rect x="537.4" y="2737.1" width="20" height="20" fill="#737373"/><rect x="564.7" y="2711.4" width="20" height="20" fill="#737373"/><rect x="591.9" y="2705.8" width="20" height="20" fill="#737373"/><rect x="619.1" y="2685.7" width="20" height="20" fill="#737373"/><rect x="646.4" y="2671.1" width="20" height="20" fill="#737373"/><rect x="673.6" y="2643.3" width="20" height="20" fill="#737373"/><rect x="700.8" y="2634.6" width="20" height="20" fill="#737373"/><rect x="728" y="2629.4" width="20" height="20" fill="#737373"/><rect x="755.3" y="2609.2" width="20" height="20" fill="#737373"/><rect x="782.5" y="2586" width="20" height="20" fill="#737373"/><rect x="809.7" y="2551" width="20" height="20" fill="#737373"/><rect x="837" y="2542.7" width="20" height="20" fill="#737373"/><rect x="864.2" y="2526.3" width="20" height="20" fill="#737373"/><rect x="891.4" y="2485.3" width="20" height="20" fill="#737373"/><rect x="918.7" y="2453.8" width="20" height="20" fill="#737373"/><rect x="945.9" y="2427.5" width="20" height="20" fill="#737373"/><rect x="973.1" y="2394.3" width="20" height="20" fill="#737373"/><rect x="1000.4" y="2368.7" width="20" height="20" fill="#737373"/><rect x="1027.6" y="2334.6" width="20" height="20" fill="#737373"/><rect x="1054.8" y="2300" width="20" height="20" fill="#737373"/><rect x="1082" y="2261.3" width="20" height="20" fill="#737373"/><rect x="1109.3" y="2232.5" width="20" height="20" fill="#737373"/><rect x="1136.5" y="2210.8" width="20" height="20" fill="#737373"/><rect x="1163.7" y="2167.5" width="20" height="20" fill="#737373"/><rect x="1191" y="2129.4" width="20" height="20" fill="#737373"/><rect x="1218.2" y="2140.2" width="20" height="20" fill="#737373"/><rect x="1245.4" y="2117.6" width="20" height="20" fill="#737373"/><rect x="1272.7" y="2107.7" width="20" height="20" fill="#737373"/><rect x="1299.9" y="2092.2" width="20" height="20" fill="#737373"/><rect x="1327.1" y="2086.1" width="20" height="20" fill="#737373"/><rect x="1354.3" y="2084.5" width="20" height="20" fill="#737373"/><rect x="1381.6" y="2078.3" width="20" height="20" fill="#737373"/><rect x="1408.8" y="2064.4" width="20" height="20" fill="#737373"/><rect x="1436" y="2063.5" width="20" height="20" fill="#737373"/><rect x="1463.3" y="2066.6" width="20" height="20" fill="#737373"/><rect x="1490.5" y="2077.4" width="20" height="20" fill="#737373"/><rect x="1517.7" y="2078.3" width="20" height="20" fill="#737373"/><rect x="1544.9" y="2070.6" width="20" height="20" fill="#737373"/><rect x="1572.2" y="2075.2" width="20" height="20" fill="#737373"/><rect x="1599.4" y="2089.1" width="20" height="20" fill="#737373"/><rect x="1626.6" y="2098.4" width="20" height="20" fill="#737373"/><rect x="1653.9" y="2100" width="20" height="20" fill="#737373"/>
<polyline points="329.6,2910.8 356.8,2631.6 384.1,2665.7 411.3,2685.8 438.5,2682.7 465.8,2682.7 493,2678.1 520.2,2660.4 547.4,2658 574.7,2651.8 601.9,2644.6 629.1,2616.8 656.4,2612.1 683.6,2599.1 710.8,2592.9 738,2575 765.3,2551.8 792.5,2536.3 819.7,2517.7 847,2510 874.2,2499.1 901.4,2444.3 928.7,2426 955.9,2387 983.1,2363.2 1010.4,2327.6 1037.6,2301.3 1064.8,2264.1 1092,2230.1 1119.3,2197.6 1146.5,2164.5 1173.7,2158.9 1201,2125.5 1228.2,2088.3 1255.4,2079 1282.7,2056.7 1309.9,2055.8 1337.1,2047.2 1364.3,2041 1391.6,2015.6 1418.8,2026.4 1446,2014 1473.3,2039.4 1500.5,2047.2 1527.7,2029.5 1554.9,2048.1 1582.2,2028.9 1609.4,2035.7 1636.6,2046.5 1663.9,2056.7" fill="none" stroke="#FC4040" stroke-width="5" stroke-linejoin="round" stroke-linecap="round"/>
<circle cx="329.6" cy="2910.8" r="11.1" fill="#FC4040"/><circle cx="356.8" cy="2631.6" r="11.1" fill="#FC4040"/><circle cx="384.1" cy="2665.7" r="11.1" fill="#FC4040"/><circle cx="411.3" cy="2685.8" r="11.1" fill="#FC4040"/><circle cx="438.5" cy="2682.7" r="11.1" fill="#FC4040"/><circle cx="465.8" cy="2682.7" r="11.1" fill="#FC4040"/><circle cx="493" cy="2678.1" r="11.1" fill="#FC4040"/><circle cx="520.2" cy="2660.4" r="11.1" fill="#FC4040"/><circle cx="547.4" cy="2658" r="11.1" fill="#FC4040"/><circle cx="574.7" cy="2651.8" r="11.1" fill="#FC4040"/><circle cx="601.9" cy="2644.6" r="11.1" fill="#FC4040"/><circle cx="629.1" cy="2616.8" r="11.1" fill="#FC4040"/><circle cx="656.4" cy="2612.1" r="11.1" fill="#FC4040"/><circle cx="683.6" cy="2599.1" r="11.1" fill="#FC4040"/><circle cx="710.8" cy="2592.9" r="11.1" fill="#FC4040"/><circle cx="738" cy="2575" r="11.1" fill="#FC4040"/><circle cx="765.3" cy="2551.8" r="11.1" fill="#FC4040"/><circle cx="792.5" cy="2536.3" r="11.1" fill="#FC4040"/><circle cx="819.7" cy="2517.7" r="11.1" fill="#FC4040"/><circle cx="847" cy="2510" r="11.1" fill="#FC4040"/><circle cx="874.2" cy="2499.1" r="11.1" fill="#FC4040"/><circle cx="901.4" cy="2444.3" r="11.1" fill="#FC4040"/><circle cx="928.7" cy="2426" r="11.1" fill="#FC4040"/><circle cx="955.9" cy="2387" r="11.1" fill="#FC4040"/><circle cx="983.1" cy="2363.2" r="11.1" fill="#FC4040"/><circle cx="1010.4" cy="2327.6" r="11.1" fill="#FC4040"/><circle cx="1037.6" cy="2301.3" r="11.1" fill="#FC4040"/><circle cx="1064.8" cy="2264.1" r="11.1" fill="#FC4040"/><circle cx="1092" cy="2230.1" r="11.1" fill="#FC4040"/><circle cx="1119.3" cy="2197.6" r="11.1" fill="#FC4040"/><circle cx="1146.5" cy="2164.5" r="11.1" fill="#FC4040"/><circle cx="1173.7" cy="2158.9" r="11.1" fill="#FC4040"/><circle cx="1201" cy="2125.5" r="11.1" fill="#FC4040"/><circle cx="1228.2" cy="2088.3" r="11.1" fill="#FC4040"/><circle cx="1255.4" cy="2079" r="11.1" fill="#FC4040"/><circle cx="1282.7" cy="2056.7" r="11.1" fill="#FC4040"/><circle cx="1309.9" cy="2055.8" r="11.1" fill="#FC4040"/><circle cx="1337.1" cy="2047.2" r="11.1" fill="#FC4040"/><circle cx="1364.3" cy="2041" r="11.1" fill="#FC4040"/><circle cx="1391.6" cy="2015.6" r="11.1" fill="#FC4040"/><circle cx="1418.8" cy="2026.4" r="11.1" fill="#FC4040"/><circle cx="1446" cy="2014" r="11.1" fill="#FC4040"/><circle cx="1473.3" cy="2039.4" r="11.1" fill="#FC4040"/><circle cx="1500.5" cy="2047.2" r="11.1" fill="#FC4040"/><circle cx="1527.7" cy="2029.5" r="11.1" fill="#FC4040"/><circle cx="1554.9" cy="2048.1" r="11.1" fill="#FC4040"/><circle cx="1582.2" cy="2028.9" r="11.1" fill="#FC4040"/><circle cx="1609.4" cy="2035.7" r="11.1" fill="#FC4040"/><circle cx="1636.6" cy="2046.5" r="11.1" fill="#FC4040"/><circle cx="1663.9" cy="2056.7" r="11.1" fill="#FC4040"/>
<polyline points="329.6,2782.1 356.8,2566.7 384.1,2606.6 411.3,2601.3 438.5,2601.3 465.8,2597.3 493,2598.8 520.2,2574.7 547.4,2567.9 574.7,2554 601.9,2550.8 629.1,2527 656.4,2526.1 683.6,2500.4 710.8,2488.3 738,2477.5 765.3,2460.5 792.5,2440.3 819.7,2424.9 847,2401.7 874.2,2378.4 901.4,2359.2 928.7,2327.6 955.9,2302.8 983.1,2270.3 1010.4,2240.9 1037.6,2216.2 1064.8,2183.7 1092,2145.6 1119.3,2123.9 1146.5,2096.1 1173.7,2057.4 1201,2040.3 1228.2,2014 1255.4,2006.6 1282.7,1978.4 1309.9,1977.8 1337.1,1973.2 1364.3,1950 1391.6,1953.1 1418.8,1950.9 1446,1939.1 1473.3,1958.9 1500.5,1945.9 1527.7,1950.3 1554.9,1955.8 1582.2,1963 1609.4,1963.9 1636.6,1954.3 1663.9,1962" fill="none" stroke="#006EE0" stroke-width="5" stroke-linejoin="round" stroke-linecap="round"/>
<polygon points="329.6,2765.8 315.4,2790.2 343.8,2790.2" fill="#006EE0"/><polygon points="356.8,2550.4 342.6,2574.8 371,2574.8" fill="#006EE0"/><polygon points="384.1,2590.3 369.9,2614.7 398.3,2614.7" fill="#006EE0"/><polygon points="411.3,2585 397.1,2609.5 425.5,2609.5" fill="#006EE0"/><polygon points="438.5,2585 424.3,2609.5 452.7,2609.5" fill="#006EE0"/><polygon points="465.8,2581 451.6,2605.4 479.9,2605.4" fill="#006EE0"/><polygon points="493,2582.5 478.8,2607 507.2,2607" fill="#006EE0"/><polygon points="520.2,2558.4 506,2582.8 534.4,2582.8" fill="#006EE0"/><polygon points="547.4,2551.6 533.2,2576 561.6,2576" fill="#006EE0"/><polygon points="574.7,2537.7 560.5,2562.1 588.9,2562.1" fill="#006EE0"/><polygon points="601.9,2534.5 587.7,2559 616.1,2559" fill="#006EE0"/><polygon points="629.1,2510.7 614.9,2535.2 643.3,2535.2" fill="#006EE0"/><polygon points="656.4,2509.8 642.2,2534.2 670.6,2534.2" fill="#006EE0"/><polygon points="683.6,2484.1 669.4,2508.5 697.8,2508.5" fill="#006EE0"/><polygon points="710.8,2472 696.6,2496.5 725,2496.5" fill="#006EE0"/><polygon points="738,2461.2 723.8,2485.6 752.2,2485.6" fill="#006EE0"/><polygon points="765.3,2444.2 751.1,2468.6 779.5,2468.6" fill="#006EE0"/><polygon points="792.5,2424 778.3,2448.5 806.7,2448.5" fill="#006EE0"/><polygon points="819.7,2408.6 805.5,2433 833.9,2433" fill="#006EE0"/><polygon points="847,2385.4 832.8,2409.8 861.2,2409.8" fill="#006EE0"/><polygon points="874.2,2362.1 860,2386.6 888.4,2386.6" fill="#006EE0"/><polygon points="901.4,2342.9 887.2,2367.3 915.6,2367.3" fill="#006EE0"/><polygon points="928.7,2311.3 914.5,2335.7 942.9,2335.7" fill="#006EE0"/><polygon points="955.9,2286.5 941.7,2311 970.1,2311" fill="#006EE0"/><polygon points="983.1,2254 968.9,2278.5 997.3,2278.5" fill="#006EE0"/><polygon points="1010.4,2224.6 996.1,2249.1 1024.5,2249.1" fill="#006EE0"/><polygon points="1037.6,2199.9 1023.4,2224.3 1051.8,2224.3" fill="#006EE0"/><polygon points="1064.8,2167.4 1050.6,2191.8 1079,2191.8" fill="#006EE0"/><polygon points="1092,2129.3 1077.8,2153.8 1106.2,2153.8" fill="#006EE0"/><polygon points="1119.3,2107.6 1105.1,2132.1 1133.5,2132.1" fill="#006EE0"/><polygon points="1146.5,2079.8 1132.3,2104.2 1160.7,2104.2" fill="#006EE0"/><polygon points="1173.7,2041.1 1159.5,2065.5 1187.9,2065.5" fill="#006EE0"/><polygon points="1201,2024 1186.8,2048.5 1215.2,2048.5" fill="#006EE0"/><polygon points="1228.2,1997.7 1214,2022.2 1242.4,2022.2" fill="#006EE0"/><polygon points="1255.4,1990.3 1241.2,2014.8 1269.6,2014.8" fill="#006EE0"/><polygon points="1282.7,1962.1 1268.5,1986.6 1296.9,1986.6" fill="#006EE0"/><polygon points="1309.9,1961.5 1295.7,1986 1324.1,1986" fill="#006EE0"/><polygon points="1337.1,1956.9 1322.9,1981.3 1351.3,1981.3" fill="#006EE0"/><polygon points="1364.3,1933.7 1350.1,1958.1 1378.5,1958.1" fill="#006EE0"/><polygon points="1391.6,1936.8 1377.4,1961.2 1405.8,1961.2" fill="#006EE0"/><polygon points="1418.8,1934.6 1404.6,1959 1433,1959" fill="#006EE0"/><polygon points="1446,1922.8 1431.8,1947.3 1460.2,1947.3" fill="#006EE0"/><polygon points="1473.3,1942.6 1459.1,1967.1 1487.5,1967.1" fill="#006EE0"/><polygon points="1500.5,1929.6 1486.3,1954.1 1514.7,1954.1" fill="#006EE0"/><polygon points="1527.7,1934 1513.5,1958.4 1541.9,1958.4" fill="#006EE0"/><polygon points="1554.9,1939.5 1540.7,1964 1569.1,1964" fill="#006EE0"/><polygon points="1582.2,1946.7 1568,1971.1 1596.4,1971.1" fill="#006EE0"/><polygon points="1609.4,1947.6 1595.2,1972 1623.6,1972" fill="#006EE0"/><polygon points="1636.6,1938 1622.4,1962.5 1650.8,1962.5" fill="#006EE0"/><polygon points="1663.9,1945.7 1649.7,1970.2 1678.1,1970.2" fill="#006EE0"/>
<polyline points="329.6,2515 356.8,2395.2 384.1,2432.3 411.3,2447.2 438.5,2469.5 465.8,2484.9 493,2495.8 520.2,2498.9 547.4,2499.8 574.7,2512.8 601.9,2510.9 629.1,2506.3 656.4,2500.1 683.6,2500.1 710.8,2493.6 738,2475.9 765.3,2471.3 792.5,2444.4 819.7,2424.9 847,2420.2 874.2,2400.1 901.4,2369.7 928.7,2343.4 955.9,2312.4 983.1,2286.1 1010.4,2252.1 1037.6,2222.4 1064.8,2181.5 1092,2159.2 1119.3,2121.2 1146.5,2108.5 1173.7,2076.9 1201,2062.3 1228.2,2040.7 1255.4,2025.5 1282.7,2025.2 1309.9,2012.8 1337.1,2000.4 1364.3,2008.8 1391.6,2003.5 1418.8,1997.3 1446,1984.9 1473.3,2021.8 1500.5,2012.2 1527.7,2014.3 1554.9,2013.7 1582.2,2017.4 1609.4,2029.8 1636.6,2025.2 1663.9,2028.3" fill="none" stroke="#00AD66" stroke-width="5" stroke-linejoin="round" stroke-linecap="round"/>
<polygon points="329.6,2531.3 315.4,2506.8 343.8,2506.8" fill="#00AD66"/><polygon points="356.8,2411.5 342.6,2387 371,2387" fill="#00AD66"/><polygon points="384.1,2448.6 369.9,2424.2 398.3,2424.2" fill="#00AD66"/><polygon points="411.3,2463.5 397.1,2439 425.5,2439" fill="#00AD66"/><polygon points="438.5,2485.8 424.3,2461.3 452.7,2461.3" fill="#00AD66"/><polygon points="465.8,2501.2 451.6,2476.8 479.9,2476.8" fill="#00AD66"/><polygon points="493,2512.1 478.8,2487.6 507.2,2487.6" fill="#00AD66"/><polygon points="520.2,2515.2 506,2490.7 534.4,2490.7" fill="#00AD66"/><polygon points="547.4,2516.1 533.2,2491.6 561.6,2491.6" fill="#00AD66"/><polygon points="574.7,2529.1 560.5,2504.6 588.9,2504.6" fill="#00AD66"/><polygon points="601.9,2527.2 587.7,2502.8 616.1,2502.8" fill="#00AD66"/><polygon points="629.1,2522.6 614.9,2498.1 643.3,2498.1" fill="#00AD66"/><polygon points="656.4,2516.4 642.2,2491.9 670.6,2491.9" fill="#00AD66"/><polygon points="683.6,2516.4 669.4,2491.9 697.8,2491.9" fill="#00AD66"/><polygon points="710.8,2509.9 696.6,2485.4 725,2485.4" fill="#00AD66"/><polygon points="738,2492.2 723.8,2467.8 752.2,2467.8" fill="#00AD66"/><polygon points="765.3,2487.6 751.1,2463.1 779.5,2463.1" fill="#00AD66"/><polygon points="792.5,2460.7 778.3,2436.2 806.7,2436.2" fill="#00AD66"/><polygon points="819.7,2441.2 805.5,2416.7 833.9,2416.7" fill="#00AD66"/><polygon points="847,2436.5 832.8,2412.1 861.2,2412.1" fill="#00AD66"/><polygon points="874.2,2416.4 860,2392 888.4,2392" fill="#00AD66"/><polygon points="901.4,2386 887.2,2361.5 915.6,2361.5" fill="#00AD66"/><polygon points="928.7,2359.7 914.5,2335.2 942.9,2335.2" fill="#00AD66"/><polygon points="955.9,2328.7 941.7,2304.3 970.1,2304.3" fill="#00AD66"/><polygon points="983.1,2302.4 968.9,2278 997.3,2278" fill="#00AD66"/><polygon points="1010.4,2268.4 996.1,2243.9 1024.5,2243.9" fill="#00AD66"/><polygon points="1037.6,2238.7 1023.4,2214.2 1051.8,2214.2" fill="#00AD66"/><polygon points="1064.8,2197.8 1050.6,2173.4 1079,2173.4" fill="#00AD66"/><polygon points="1092,2175.5 1077.8,2151.1 1106.2,2151.1" fill="#00AD66"/><polygon points="1119.3,2137.5 1105.1,2113 1133.5,2113" fill="#00AD66"/><polygon points="1146.5,2124.8 1132.3,2100.3 1160.7,2100.3" fill="#00AD66"/><polygon points="1173.7,2093.2 1159.5,2068.7 1187.9,2068.7" fill="#00AD66"/><polygon points="1201,2078.6 1186.8,2054.2 1215.2,2054.2" fill="#00AD66"/><polygon points="1228.2,2057 1214,2032.5 1242.4,2032.5" fill="#00AD66"/><polygon points="1255.4,2041.8 1241.2,2017.3 1269.6,2017.3" fill="#00AD66"/><polygon points="1282.7,2041.5 1268.5,2017 1296.9,2017" fill="#00AD66"/><polygon points="1309.9,2029.1 1295.7,2004.6 1324.1,2004.6" fill="#00AD66"/><polygon points="1337.1,2016.7 1322.9,1992.3 1351.3,1992.3" fill="#00AD66"/><polygon points="1364.3,2025.1 1350.1,2000.6 1378.5,2000.6" fill="#00AD66"/><polygon points="1391.6,2019.8 1377.4,1995.4 1405.8,1995.4" fill="#00AD66"/><polygon points="1418.8,2013.6 1404.6,1989.2 1433,1989.2" fill="#00AD66"/><polygon points="1446,2001.2 1431.8,1976.8 1460.2,1976.8" fill="#00AD66"/><polygon points="1473.3,2038.1 1459.1,2013.6 1487.5,2013.6" fill="#00AD66"/><polygon points="1500.5,2028.5 1486.3,2004 1514.7,2004" fill="#00AD66"/><polygon points="1527.7,2030.6 1513.5,2006.2 1541.9,2006.2" fill="#00AD66"/><polygon points="1554.9,2030 1540.7,2005.6 1569.1,2005.6" fill="#00AD66"/><polygon points="1582.2,2033.7 1568,2009.3 1596.4,2009.3" fill="#00AD66"/><polygon points="1609.4,2046.1 1595.2,2021.7 1623.6,2021.7" fill="#00AD66"/><polygon points="1636.6,2041.5 1622.4,2017 1650.8,2017" fill="#00AD66"/><polygon points="1663.9,2044.6 1649.7,2020.1 1678.1,2020.1" fill="#00AD66"/>
<polyline points="329.6,2693.5 356.8,2678.7 384.1,2679.6 411.3,2676.5 438.5,2673.4 465.8,2670.3 493,2666.3 520.2,2651.8 547.4,2649.6 574.7,2634.1 601.9,2621.4 629.1,2608.4 656.4,2602.8 683.6,2590.5 710.8,2575 738,2559.5 765.3,2536.3 792.5,2534.7 819.7,2502.2 847,2480.6 874.2,2466.7 901.4,2432.8 928.7,2406.5 955.9,2380.2 983.1,2353.9 1010.4,2331.3 1037.6,2309 1064.8,2284.3 1092,2264.1 1119.3,2237.8 1146.5,2231.6 1173.7,2210 1201,2207.5 1228.2,2209 1255.4,2190.5 1282.7,2185.8 1309.9,2185.8 1337.1,2190.5 1364.3,2178.1 1391.6,2181.8 1418.8,2183.6 1446,2185.8 1473.3,2215.2 1500.5,2210.6 1527.7,2216.8 1554.9,2218.3 1582.2,2214.6 1609.4,2220.5 1636.6,2224.5 1663.9,2230.7" fill="none" stroke="#BF7AE1" stroke-width="5" stroke-linejoin="round" stroke-linecap="round"/>
<polygon points="329.6,2679 343.6,2693.5 329.6,2708 315.6,2693.5" fill="#BF7AE1"/><polygon points="356.8,2664.2 370.8,2678.7 356.8,2693.2 342.8,2678.7" fill="#BF7AE1"/><polygon points="384.1,2665.1 398.1,2679.6 384.1,2694.1 370.1,2679.6" fill="#BF7AE1"/><polygon points="411.3,2662 425.3,2676.5 411.3,2691 397.3,2676.5" fill="#BF7AE1"/><polygon points="438.5,2658.9 452.5,2673.4 438.5,2687.9 424.5,2673.4" fill="#BF7AE1"/><polygon points="465.8,2655.8 479.8,2670.3 465.8,2684.8 451.8,2670.3" fill="#BF7AE1"/><polygon points="493,2651.8 507,2666.3 493,2680.8 479,2666.3" fill="#BF7AE1"/><polygon points="520.2,2637.3 534.2,2651.8 520.2,2666.3 506.2,2651.8" fill="#BF7AE1"/><polygon points="547.4,2635.1 561.4,2649.6 547.4,2664.1 533.4,2649.6" fill="#BF7AE1"/><polygon points="574.7,2619.6 588.7,2634.1 574.7,2648.6 560.7,2634.1" fill="#BF7AE1"/><polygon points="601.9,2606.9 615.9,2621.4 601.9,2635.9 587.9,2621.4" fill="#BF7AE1"/><polygon points="629.1,2593.9 643.1,2608.4 629.1,2622.9 615.1,2608.4" fill="#BF7AE1"/><polygon points="656.4,2588.3 670.4,2602.8 656.4,2617.3 642.4,2602.8" fill="#BF7AE1"/><polygon points="683.6,2576 697.6,2590.5 683.6,2605 669.6,2590.5" fill="#BF7AE1"/><polygon points="710.8,2560.5 724.8,2575 710.8,2589.5 696.8,2575" fill="#BF7AE1"/><polygon points="738,2545 752,2559.5 738,2574 724,2559.5" fill="#BF7AE1"/><polygon points="765.3,2521.8 779.3,2536.3 765.3,2550.8 751.3,2536.3" fill="#BF7AE1"/><polygon points="792.5,2520.2 806.5,2534.7 792.5,2549.2 778.5,2534.7" fill="#BF7AE1"/><polygon points="819.7,2487.7 833.7,2502.2 819.7,2516.7 805.7,2502.2" fill="#BF7AE1"/><polygon points="847,2466.1 861,2480.6 847,2495.1 833,2480.6" fill="#BF7AE1"/><polygon points="874.2,2452.2 888.2,2466.7 874.2,2481.2 860.2,2466.7" fill="#BF7AE1"/><polygon points="901.4,2418.3 915.4,2432.8 901.4,2447.3 887.4,2432.8" fill="#BF7AE1"/><polygon points="928.7,2392 942.7,2406.5 928.7,2421 914.7,2406.5" fill="#BF7AE1"/><polygon points="955.9,2365.7 969.9,2380.2 955.9,2394.7 941.9,2380.2" fill="#BF7AE1"/><polygon points="983.1,2339.4 997.1,2353.9 983.1,2368.4 969.1,2353.9" fill="#BF7AE1"/><polygon points="1010.4,2316.8 1024.3,2331.3 1010.4,2345.8 996.4,2331.3" fill="#BF7AE1"/><polygon points="1037.6,2294.5 1051.6,2309 1037.6,2323.5 1023.6,2309" fill="#BF7AE1"/><polygon points="1064.8,2269.8 1078.8,2284.3 1064.8,2298.8 1050.8,2284.3" fill="#BF7AE1"/><polygon points="1092,2249.6 1106,2264.1 1092,2278.6 1078,2264.1" fill="#BF7AE1"/><polygon points="1119.3,2223.3 1133.3,2237.8 1119.3,2252.3 1105.3,2237.8" fill="#BF7AE1"/><polygon points="1146.5,2217.1 1160.5,2231.6 1146.5,2246.1 1132.5,2231.6" fill="#BF7AE1"/><polygon points="1173.7,2195.5 1187.7,2210 1173.7,2224.5 1159.7,2210" fill="#BF7AE1"/><polygon points="1201,2193 1215,2207.5 1201,2222 1187,2207.5" fill="#BF7AE1"/><polygon points="1228.2,2194.5 1242.2,2209 1228.2,2223.5 1214.2,2209" fill="#BF7AE1"/><polygon points="1255.4,2176 1269.4,2190.5 1255.4,2205 1241.4,2190.5" fill="#BF7AE1"/><polygon points="1282.7,2171.3 1296.7,2185.8 1282.7,2200.3 1268.7,2185.8" fill="#BF7AE1"/><polygon points="1309.9,2171.3 1323.9,2185.8 1309.9,2200.3 1295.9,2185.8" fill="#BF7AE1"/><polygon points="1337.1,2176 1351.1,2190.5 1337.1,2205 1323.1,2190.5" fill="#BF7AE1"/><polygon points="1364.3,2163.6 1378.3,2178.1 1364.3,2192.6 1350.3,2178.1" fill="#BF7AE1"/><polygon points="1391.6,2167.3 1405.6,2181.8 1391.6,2196.3 1377.6,2181.8" fill="#BF7AE1"/><polygon points="1418.8,2169.1 1432.8,2183.6 1418.8,2198.1 1404.8,2183.6" fill="#BF7AE1"/><polygon points="1446,2171.3 1460,2185.8 1446,2200.3 1432,2185.8" fill="#BF7AE1"/><polygon points="1473.3,2200.7 1487.3,2215.2 1473.3,2229.7 1459.3,2215.2" fill="#BF7AE1"/><polygon points="1500.5,2196.1 1514.5,2210.6 1500.5,2225.1 1486.5,2210.6" fill="#BF7AE1"/><polygon points="1527.7,2202.3 1541.7,2216.8 1527.7,2231.3 1513.7,2216.8" fill="#BF7AE1"/><polygon points="1554.9,2203.8 1568.9,2218.3 1554.9,2232.8 1540.9,2218.3" fill="#BF7AE1"/><polygon points="1582.2,2200.1 1596.2,2214.6 1582.2,2229.1 1568.2,2214.6" fill="#BF7AE1"/><polygon points="1609.4,2206 1623.4,2220.5 1609.4,2235 1595.4,2220.5" fill="#BF7AE1"/><polygon points="1636.6,2210 1650.6,2224.5 1636.6,2239 1622.6,2224.5" fill="#BF7AE1"/><polygon points="1663.9,2216.2 1677.9,2230.7 1663.9,2245.2 1649.9,2230.7" fill="#BF7AE1"/>
<polyline points="329.6,2554.3 356.8,2560.5 384.1,2549.6 411.3,2549.6 438.5,2543.4 465.8,2551.2 493,2542.5 520.2,2532.6 547.4,2517.7 574.7,2514 601.9,2513.1 629.1,2497.6 656.4,2486.8 683.6,2475.9 710.8,2463.6 738,2454.3 765.3,2435.7 792.5,2406.3 819.7,2386.2 847,2380 874.2,2352.1 901.4,2324.5 928.7,2299.7 955.9,2275 983.1,2251.8 1010.4,2228.6 1037.6,2206.9 1064.8,2183.7 1092,2163.6 1119.3,2145 1146.5,2131.1 1173.7,2118.7 1201,2114.6 1228.2,2107.5 1255.4,2094.5 1282.7,2093 1309.9,2089.9 1337.1,2086.8 1364.3,2083.7 1391.6,2089.9 1418.8,2080.6 1446,2082.1 1473.3,2106.3 1500.5,2109.4 1527.7,2106.3 1554.9,2110.6 1582.2,2106.3 1609.4,2106.9 1636.6,2109.4 1663.9,2118.6" fill="none" stroke="#DE9B00" stroke-width="5" stroke-linejoin="round" stroke-linecap="round"/>
<polygon points="313.3,2554.3 337.8,2540.1 337.8,2568.5" fill="#DE9B00"/><polygon points="340.5,2560.5 365,2546.3 365,2574.7" fill="#DE9B00"/><polygon points="367.8,2549.6 392.2,2535.4 392.2,2563.8" fill="#DE9B00"/><polygon points="395,2549.6 419.4,2535.4 419.4,2563.8" fill="#DE9B00"/><polygon points="422.2,2543.4 446.7,2529.2 446.7,2557.6" fill="#DE9B00"/><polygon points="449.4,2551.2 473.9,2537 473.9,2565.4" fill="#DE9B00"/><polygon points="476.7,2542.5 501.1,2528.3 501.1,2556.7" fill="#DE9B00"/><polygon points="503.9,2532.6 528.4,2518.4 528.4,2546.8" fill="#DE9B00"/><polygon points="531.1,2517.7 555.6,2503.5 555.6,2531.9" fill="#DE9B00"/><polygon points="558.4,2514 582.8,2499.8 582.8,2528.2" fill="#DE9B00"/><polygon points="585.6,2513.1 610.1,2498.9 610.1,2527.3" fill="#DE9B00"/><polygon points="612.8,2497.6 637.3,2483.4 637.3,2511.8" fill="#DE9B00"/><polygon points="640.1,2486.8 664.5,2472.6 664.5,2501" fill="#DE9B00"/><polygon points="667.3,2475.9 691.7,2461.7 691.7,2490.1" fill="#DE9B00"/><polygon points="694.5,2463.6 719,2449.4 719,2477.8" fill="#DE9B00"/><polygon points="721.8,2454.3 746.2,2440.1 746.2,2468.5" fill="#DE9B00"/><polygon points="749,2435.7 773.4,2421.5 773.4,2449.9" fill="#DE9B00"/><polygon points="776.2,2406.3 800.7,2392.1 800.7,2420.5" fill="#DE9B00"/><polygon points="803.4,2386.2 827.9,2372 827.9,2400.4" fill="#DE9B00"/><polygon points="830.7,2380 855.1,2365.8 855.1,2394.2" fill="#DE9B00"/><polygon points="857.9,2352.1 882.4,2337.9 882.4,2366.3" fill="#DE9B00"/><polygon points="885.1,2324.5 909.6,2310.3 909.6,2338.7" fill="#DE9B00"/><polygon points="912.4,2299.7 936.8,2285.5 936.8,2313.9" fill="#DE9B00"/><polygon points="939.6,2275 964,2260.8 964,2289.2" fill="#DE9B00"/><polygon points="966.8,2251.8 991.3,2237.6 991.3,2266" fill="#DE9B00"/><polygon points="994.1,2228.6 1018.5,2214.4 1018.5,2242.8" fill="#DE9B00"/><polygon points="1021.3,2206.9 1045.7,2192.7 1045.7,2221.1" fill="#DE9B00"/><polygon points="1048.5,2183.7 1073,2169.5 1073,2197.9" fill="#DE9B00"/><polygon points="1075.7,2163.6 1100.2,2149.4 1100.2,2177.8" fill="#DE9B00"/><polygon points="1103,2145 1127.4,2130.8 1127.4,2159.2" fill="#DE9B00"/><polygon points="1130.2,2131.1 1154.7,2116.9 1154.7,2145.3" fill="#DE9B00"/><polygon points="1157.4,2118.7 1181.9,2104.5 1181.9,2132.9" fill="#DE9B00"/><polygon points="1184.7,2114.6 1209.1,2100.4 1209.1,2128.8" fill="#DE9B00"/><polygon points="1211.9,2107.5 1236.3,2093.3 1236.3,2121.7" fill="#DE9B00"/><polygon points="1239.1,2094.5 1263.6,2080.3 1263.6,2108.7" fill="#DE9B00"/><polygon points="1266.4,2093 1290.8,2078.8 1290.8,2107.2" fill="#DE9B00"/><polygon points="1293.6,2089.9 1318,2075.7 1318,2104.1" fill="#DE9B00"/><polygon points="1320.8,2086.8 1345.3,2072.6 1345.3,2101" fill="#DE9B00"/><polygon points="1348,2083.7 1372.5,2069.5 1372.5,2097.9" fill="#DE9B00"/><polygon points="1375.3,2089.9 1399.7,2075.7 1399.7,2104.1" fill="#DE9B00"/><polygon points="1402.5,2080.6 1427,2066.4 1427,2094.8" fill="#DE9B00"/><polygon points="1429.7,2082.1 1454.2,2067.9 1454.2,2096.3" fill="#DE9B00"/><polygon points="1457,2106.3 1481.4,2092.1 1481.4,2120.5" fill="#DE9B00"/><polygon points="1484.2,2109.4 1508.6,2095.2 1508.6,2123.6" fill="#DE9B00"/><polygon points="1511.4,2106.3 1535.9,2092.1 1535.9,2120.5" fill="#DE9B00"/><polygon points="1538.6,2110.6 1563.1,2096.4 1563.1,2124.8" fill="#DE9B00"/><polygon points="1565.9,2106.3 1590.3,2092.1 1590.3,2120.5" fill="#DE9B00"/><polygon points="1593.1,2106.9 1617.6,2092.7 1617.6,2121.1" fill="#DE9B00"/><polygon points="1620.3,2109.4 1644.8,2095.2 1644.8,2123.6" fill="#DE9B00"/><polygon points="1647.6,2118.6 1672,2104.4 1672,2132.8" fill="#DE9B00"/>
<rect x="302.7" y="1842.7" width="1447.2" height="1163.5" fill="none" stroke="#000" stroke-width="5"/>
<text x="278.3" y="3028.8" font-size="72" text-anchor="end" >0.000</text>
<text x="278.3" y="2770" font-size="72" text-anchor="end" >0.005</text>
<text x="278.3" y="2511.3" font-size="72" text-anchor="end" >0.010</text>
<text x="278.3" y="2252.5" font-size="72" text-anchor="end" >0.015</text>
<text x="278.3" y="1993.8" font-size="72" text-anchor="end" >0.020</text>
<path d="M302.7 2876.8H314.2 M302.7 2747.4H326.1 M302.7 2618.1H314.2 M302.7 2488.7H326.1 M302.7 2359.3H314.2 M302.7 2229.9H326.1 M302.7 2100.6H314.2 M302.7 1971.2H326.1" stroke="#000" stroke-width="5" fill="none"/>
<path d="M316.6 3006.2V2994.7 M329.6 3006.2V2982.8 M415.1 3006.2V2994.7 M465.1 3006.2V2994.7 M500.6 3006.2V2994.7 M528.1 3006.2V2994.7 M550.6 3006.2V2994.7 M569.6 3006.2V2994.7 M586.1 3006.2V2994.7 M600.6 3006.2V2994.7 M613.6 3006.2V2982.8 M699.1 3006.2V2994.7 M749.1 3006.2V2994.7 M784.6 3006.2V2994.7 M812.1 3006.2V2994.7 M834.6 3006.2V2994.7 M853.6 3006.2V2994.7 M870.1 3006.2V2994.7 M884.6 3006.2V2994.7 M897.6 3006.2V2982.8 M983.1 3006.2V2994.7 M1033.1 3006.2V2994.7 M1068.6 3006.2V2994.7 M1096.1 3006.2V2994.7 M1118.6 3006.2V2994.7 M1137.6 3006.2V2994.7 M1154.1 3006.2V2994.7 M1168.6 3006.2V2994.7 M1181.6 3006.2V2982.8 M1267.1 3006.2V2994.7 M1317.1 3006.2V2994.7 M1352.6 3006.2V2994.7 M1380.1 3006.2V2994.7 M1402.6 3006.2V2994.7 M1421.6 3006.2V2994.7 M1438.1 3006.2V2994.7 M1452.6 3006.2V2994.7 M1465.6 3006.2V2982.8 M1551.1 3006.2V2994.7 M1601.1 3006.2V2994.7 M1636.6 3006.2V2994.7 M1664.1 3006.2V2994.7 M1686.6 3006.2V2994.7 M1705.6 3006.2V2994.7 M1722.1 3006.2V2994.7 M1736.6 3006.2V2994.7" stroke="#000" stroke-width="5" fill="none"/>
<text x="283.6" y="3097.5" font-size="72">10<tspan font-size="46" dy="-30.5">2</tspan></text>
<text x="567.6" y="3097.5" font-size="72">10<tspan font-size="46" dy="-30.5">3</tspan></text>
<text x="851.6" y="3097.5" font-size="72">10<tspan font-size="46" dy="-30.5">4</tspan></text>
<text x="1135.6" y="3097.5" font-size="72">10<tspan font-size="46" dy="-30.5">5</tspan></text>
<text x="1419.6" y="3097.5" font-size="72">10<tspan font-size="46" dy="-30.5">6</tspan></text>
<text x="1703.6" y="3097.5" font-size="72">10<tspan font-size="46" dy="-30.5">7</tspan></text>
<text x="1026.8" y="3205.2" font-size="72" text-anchor="middle" >Frequency (Hz)</text>
<text transform="translate(89.1,2424.2) rotate(-90)" font-size="72" text-anchor="middle">Loss tangent</text>
<text x="65.5" y="1812" font-size="80" text-anchor="start" >(b)</text>
<path d="M1021.7 2544.9H1138.3" stroke="#DE9B00" stroke-width="5" stroke-linecap="round"/>
<polygon points="1064.5,2544.9 1087.7,2531.4 1087.7,2558.4" fill="#DE9B00"/>
<text x="1150.5" y="2561.9" font-size="52.4" text-anchor="start" >composite, 40 wt% filler</text>
<path d="M1021.7 2609.2H1138.3" stroke="#BF7AE1" stroke-width="5" stroke-linecap="round"/>
<polygon points="1080,2595.4 1093.3,2609.2 1080,2623 1066.7,2609.2" fill="#BF7AE1"/>
<text x="1150.5" y="2626.2" font-size="52.4" text-anchor="start" >composite, 30 wt% filler</text>
<path d="M1021.7 2673.5H1138.3" stroke="#00AD66" stroke-width="5" stroke-linecap="round"/>
<polygon points="1080,2689 1066.5,2665.8 1093.5,2665.8" fill="#00AD66"/>
<text x="1150.5" y="2690.5" font-size="52.4" text-anchor="start" >composite, 20 wt% filler</text>
<path d="M1021.7 2737.8H1138.3" stroke="#006EE0" stroke-width="5" stroke-linecap="round"/>
<polygon points="1080,2722.3 1066.5,2745.5 1093.5,2745.5" fill="#006EE0"/>
<text x="1150.5" y="2754.8" font-size="52.4" text-anchor="start" >composite, 10 wt% filler</text>
<path d="M1021.7 2802.1H1138.3" stroke="#FC4040" stroke-width="5" stroke-linecap="round"/>
<circle cx="1080" cy="2802.1" r="10.5" fill="#FC4040"/>
<text x="1150.5" y="2819.1" font-size="52.4" text-anchor="start" >composite, 5 wt% filler</text>
<path d="M1021.7 2866.4H1138.3" stroke="#737373" stroke-width="5" stroke-linecap="round"/>
<rect x="1070.5" y="2856.9" width="19" height="19" fill="#737373"/>
<text x="1150.5" y="2883.4" font-size="52.4" text-anchor="start" >Epoxy</text>
<polyline points="369.8,4271 514.9,4239.3 660,4180.5 950.2,4056.4 1240.4,3917.2 1530.6,3682" fill="none" stroke="#FF0000" stroke-width="5" stroke-linejoin="round"/>
<rect x="356.8" y="4258" width="26" height="26" fill="#FF0000"/>
<rect x="501.9" y="4226.3" width="26" height="26" fill="#FF0000"/>
<rect x="647" y="4167.5" width="26" height="26" fill="#FF0000"/>
<rect x="937.2" y="4043.4" width="26" height="26" fill="#FF0000"/>
<rect x="1227.4" y="3904.2" width="26" height="26" fill="#FF0000"/>
<rect x="1517.6" y="3669" width="26" height="26" fill="#FF0000"/>
<polyline points="369.8,4514.2 514.9,4456.2 660,4388.4 950.2,4366.5 1240.4,4448.5 1530.6,4361.5" fill="none" stroke="#0000FF" stroke-width="5" stroke-linejoin="round"/>
<polygon points="369.8,4494 352.3,4524.3 387.3,4524.3" fill="#0000FF"/>
<polygon points="514.9,4436 497.4,4466.3 532.4,4466.3" fill="#0000FF"/>
<polygon points="660,4368.2 642.5,4398.5 677.5,4398.5" fill="#0000FF"/>
<polygon points="950.2,4346.3 932.7,4376.6 967.7,4376.6" fill="#0000FF"/>
<polygon points="1240.4,4428.3 1222.9,4458.6 1257.9,4458.6" fill="#0000FF"/>
<polygon points="1530.6,4341.3 1513.1,4371.6 1548.1,4371.6" fill="#0000FF"/>
<path d="M600.9 4177.4H515" stroke="#FF0000" stroke-width="2"/><polygon points="487.5,4177.4 521.2,4168.9 521.2,4185.9" fill="#FF0000"/>
<path d="M1415.2 4435.9H1495" stroke="#0000FF" stroke-width="2"/><polygon points="1520.4,4435.9 1488.3,4427.4 1488.3,4444.4" fill="#0000FF"/>
<rect x="224.5" y="3567.6" width="1451.9" height="1173.4" fill="none" stroke="#000" stroke-width="5"/>
<text x="199.5" y="4763.6" font-size="72" text-anchor="end" >0</text>
<text x="199.5" y="4596" font-size="72" text-anchor="end" >1</text>
<text x="199.5" y="4428.3" font-size="72" text-anchor="end" >2</text>
<text x="199.5" y="4260.7" font-size="72" text-anchor="end" >3</text>
<text x="199.5" y="4093.1" font-size="72" text-anchor="end" >4</text>
<text x="199.5" y="3925.4" font-size="72" text-anchor="end" >5</text>
<text x="199.5" y="3757.8" font-size="72" text-anchor="end" >6</text>
<text x="199.5" y="3590.2" font-size="72" text-anchor="end" >7</text>
<text x="1700.8" y="4763.6" font-size="72" text-anchor="start" >0.000</text>
<text x="1700.8" y="4568" font-size="72" text-anchor="start" >0.005</text>
<text x="1700.8" y="4372.5" font-size="72" text-anchor="start" >0.010</text>
<text x="1700.8" y="4176.9" font-size="72" text-anchor="start" >0.015</text>
<text x="1700.8" y="3981.3" font-size="72" text-anchor="start" >0.020</text>
<text x="1700.8" y="3785.8" font-size="72" text-anchor="start" >0.025</text>
<text x="1700.8" y="3590.2" font-size="72" text-anchor="start" >0.030</text>
<text x="371.3" y="4822.5" font-size="72" text-anchor="middle" >0</text>
<text x="661.5" y="4822.5" font-size="72" text-anchor="middle" >10</text>
<text x="951.7" y="4822.5" font-size="72" text-anchor="middle" >20</text>
<text x="1241.9" y="4822.5" font-size="72" text-anchor="middle" >30</text>
<text x="1532.1" y="4822.5" font-size="72" text-anchor="middle" >40</text>
<path d="M224.5 4657.2H236 M224.5 4573.4H247.9 M224.5 4489.6H236 M224.5 4405.7H247.9 M224.5 4321.9H236 M224.5 4238.1H247.9 M224.5 4154.3H236 M224.5 4070.5H247.9 M224.5 3986.7H236 M224.5 3902.8H247.9 M224.5 3819H236 M224.5 3735.2H247.9 M224.5 3651.4H236 M1676.4 4643.2H1664.9 M1676.4 4545.4H1653 M1676.4 4447.6H1664.9 M1676.4 4349.9H1653 M1676.4 4252.1H1664.9 M1676.4 4154.3H1653 M1676.4 4056.5H1664.9 M1676.4 3958.7H1653 M1676.4 3860.9H1664.9 M1676.4 3763.2H1653 M1676.4 3665.4H1664.9 M369.8 4741V4717.6 M369.8 3567.6V3591 M514.9 4741V4729.5 M514.9 3567.6V3579.1 M660 4741V4717.6 M660 3567.6V3591 M805.1 4741V4729.5 M805.1 3567.6V3579.1 M950.2 4741V4717.6 M950.2 3567.6V3591 M1095.3 4741V4729.5 M1095.3 3567.6V3579.1 M1240.4 4741V4717.6 M1240.4 3567.6V3591 M1385.5 4741V4729.5 M1385.5 3567.6V3579.1 M1530.6 4741V4717.6 M1530.6 3567.6V3591" stroke="#000" stroke-width="5" fill="none"/>
<text x="951" y="4922.8" font-size="72" text-anchor="middle" >Filler content (wt%)</text>
<text transform="translate(118.6,4181.2) rotate(-90)" font-size="72" text-anchor="middle">Dielectric permittivity</text>
<text transform="translate(1952.4,4162.5) rotate(-90)" font-size="72" text-anchor="middle">Dielectric loss</text>
<text x="74.1" y="3500.8" font-size="80" text-anchor="start" >(c)</text>
<text x="310.4" y="3707.2" font-size="61.2" text-anchor="start" >Frequency 1000Hz</text>
</svg>
</body></html>
